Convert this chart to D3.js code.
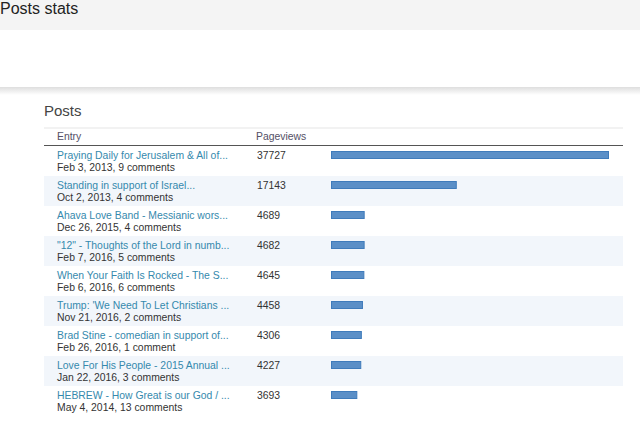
<!DOCTYPE html>
<html><head><meta charset="utf-8">
<script src="https://cdn.jsdelivr.net/npm/d3@7"></script>
<style>html,body{margin:0;padding:0;background:#fff;overflow:hidden}</style>
</head><body>
<svg id="c" width="640" height="426"></svg>
<script>
const titles = [
  "Praying Daily for Jerusalem & All of...",
  "Standing in support of Israel...",
  "Ahava Love Band - Messianic wors...",
  "\"12\" - Thoughts of the Lord in numb...",
  "When Your Faith Is Rocked - The S...",
  "Trump: 'We Need To Let Christians ...",
  "Brad Stine - comedian in support of...",
  "Love For His People - 2015 Annual ...",
  "HEBREW - How Great is our God / ..."
];
const subtitles = [
  "Feb 3, 2013, 9 comments",
  "Oct 2, 2013, 4 comments",
  "Dec 26, 2015, 4 comments",
  "Feb 7, 2016, 5 comments",
  "Feb 6, 2016, 6 comments",
  "Nov 21, 2016, 2 comments",
  "Feb 26, 2016, 1 comment",
  "Jan 22, 2016, 3 comments",
  "May 4, 2014, 13 comments"
];
const pageviews = [37727, 17143, 4689, 4682, 4645, 4458, 4306, 4227, 3693];
const headers = ["Entry", "Pageviews"];

const svg = d3.select("#c");
const font = "'Liberation Sans', Arial, sans-serif";
const fs = 10.4;

const defs = svg.append("defs");
const g1 = defs.append("linearGradient").attr("id","sh").attr("x1",0).attr("y1",0).attr("x2",0).attr("y2",1);
g1.append("stop").attr("offset","0%").attr("stop-color","#dedede");
g1.append("stop").attr("offset","100%").attr("stop-color","#ffffff");

svg.append("rect").attr("x",0).attr("y",0).attr("width",640).attr("height",30).attr("fill","#f4f4f4");
svg.append("text").attr("x",0).attr("y",14).attr("font-family",font).attr("font-size",16)
  .attr("fill","#222").text("Posts stats");
svg.append("rect").attr("x",0).attr("y",87).attr("width",640).attr("height",8).attr("fill","url(#sh)");

svg.append("text").attr("x",44).attr("y",116).attr("font-family",font).attr("font-size",15)
  .attr("fill","#444").text("Posts");

const left = 44, right = 623, headTop = 127, rowTop = 146, rowH = 30;

svg.append("rect").attr("x",left).attr("y",headTop).attr("width",right-left).attr("height",2).attr("fill","#f2f2f2");
svg.append("rect").attr("x",left).attr("y",145).attr("width",right-left).attr("height",2).attr("fill","#555");

svg.selectAll("text.hdr").data(headers).join("text").attr("class","hdr")
  .attr("x",(d,i)=> i===0 ? 57 : 256).attr("y",140)
  .attr("font-family",font).attr("font-size",fs).attr("fill","#545066").text(d=>d);

const y = d3.scaleBand().domain(d3.range(pageviews.length)).range([rowTop, rowTop + rowH*pageviews.length]).padding(0);
const x = d3.scaleLinear().domain([0, d3.max(pageviews)]).range([0, 279]);

const rows = svg.selectAll("g.row").data(pageviews).join("g").attr("class","row")
  .attr("transform",(d,i)=>`translate(0,${y(i)})`);

rows.append("rect").attr("x",left).attr("y",0).attr("width",right-left).attr("height",y.bandwidth())
  .attr("fill",(d,i)=> i%2===1 ? "#f2f6fb" : "#ffffff");

rows.append("text").attr("x",57).attr("y",13).attr("font-family",font).attr("font-size",fs)
  .attr("fill","#3589ad").text((d,i)=>titles[i]);
rows.append("text").attr("x",57).attr("y",25).attr("font-family",font).attr("font-size",fs)
  .attr("fill","#333").text((d,i)=>subtitles[i]);
rows.append("text").attr("x",257).attr("y",13).attr("font-family",font).attr("font-size",fs)
  .attr("fill","#333").text(d=>d);

rows.append("rect").attr("x",331.5).attr("y",5.5).attr("width",d=>Math.max(0,x(d)-2)).attr("height",7)
  .attr("fill","#5b8fc7").attr("stroke","#3f7bbb").attr("stroke-width",1);
</script>
</body></html>
